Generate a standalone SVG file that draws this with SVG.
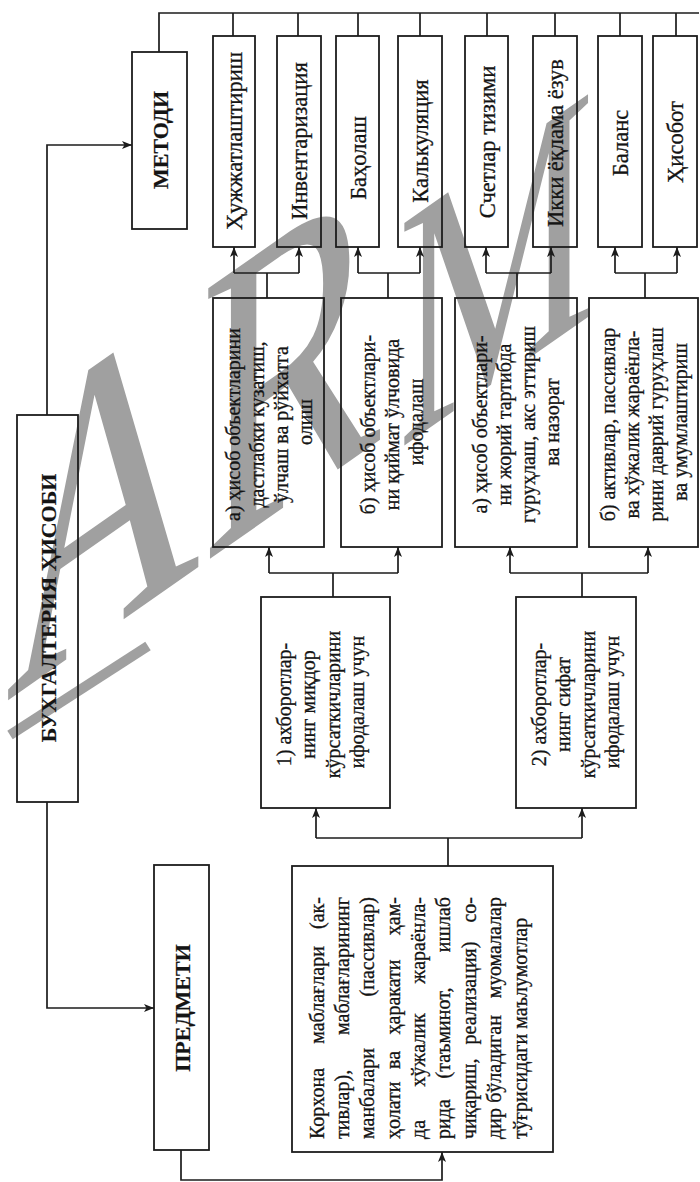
<svg xmlns="http://www.w3.org/2000/svg" width="700" height="1182" viewBox="0 0 700 1182">
  <defs>
    <style>
      .box { fill: none; stroke: #1c1c1c; stroke-width: 1.8; }
      .ln { fill: none; stroke: #1c1c1c; stroke-width: 1.7; }
      .arr { marker-end: url(#head); }
      .t { font-family: "Liberation Serif", "Times New Roman", serif; font-size: 20px; fill: #141414; stroke: #141414; stroke-width: 0.3; text-anchor: middle; }
      .m { font-size: 22.5px; }
      .b { font-weight: bold; font-size: 22px; stroke-width: 0.2; }
      .s { text-anchor: start; }
      .c { text-anchor: middle; }
      .e { text-anchor: end; }
      .wm { font-family: "Liberation Serif", "Times New Roman", serif; font-size: 415px; fill: #a0a0a0; }
      .wm-small { font-size: 340px; }
    </style>
    <marker id="head" markerUnits="userSpaceOnUse" markerWidth="10" markerHeight="8" refX="10" refY="4" orient="auto">
      <path d="M0,0 L10,4 L0,8 L2.5,4 z" fill="#1c1c1c"/>
    </marker>
  </defs>
  <rect width="700" height="1182" fill="#ffffff"/>

  <!-- grey stamp lettering behind the chart -->
  <g id="watermark">
    <text class="wm" transform="translate(5.5,702) skewY(-35) scale(0.65,1)">A</text>
    <text class="wm" transform="translate(200.5,565.5) skewY(-35) scale(0.65,1)">R</text>
    <text class="wm wm-small" transform="translate(398,450) skewY(-35) scale(0.65,1)">M</text>
    <line x1="10" y1="735" x2="148" y2="646" stroke="#a0a0a0" stroke-width="10"/>
  </g>

  <!-- connectors -->
  <g id="connectors">
    <!-- method bus along the top -->
    <path class="ln" d="M159,52 V13 H699 M233,13 V36 M298,13 V36 M358,13 V36 M420,13 V36 M487,13 V36 M555,13 V36 M620,13 V36 M676,13 V36"/>
    <!-- root to methods / subject -->
    <path class="ln arr" d="M47,415 V145 H132"/>
    <path class="ln arr" d="M47,802 V1008 H154"/>
    <!-- subject to its description -->
    <path class="ln arr" d="M181,1150 V1180 H442 V1152"/>
    <!-- description to the two information groups -->
    <path class="ln" d="M448,866 V838 M316,838 H582"/>
    <path class="ln arr" d="M316,838 V808"/>
    <path class="ln arr" d="M582,838 V808"/>
    <!-- group 1 to its tasks -->
    <path class="ln" d="M333,597 V573 M269,573 H398"/>
    <path class="ln arr" d="M269,573 V547"/>
    <path class="ln arr" d="M398,573 V547"/>
    <!-- group 2 to its tasks -->
    <path class="ln" d="M582,597 V573 M510,573 H648"/>
    <path class="ln arr" d="M510,573 V547"/>
    <path class="ln arr" d="M648,573 V547"/>
    <!-- tasks to methods -->
    <path class="ln" d="M267,298 V273 M234,273 H299"/>
    <path class="ln arr" d="M234,273 V247"/>
    <path class="ln arr" d="M299,273 V247"/>
    <path class="ln" d="M388,298 V273 M358,273 H420"/>
    <path class="ln arr" d="M358,273 V247"/>
    <path class="ln arr" d="M420,273 V247"/>
    <path class="ln" d="M517,298 V273 M486,273 H551"/>
    <path class="ln arr" d="M486,273 V247"/>
    <path class="ln arr" d="M551,273 V247"/>
    <path class="ln" d="M645,298 V273 M615,273 H677"/>
    <path class="ln arr" d="M615,273 V247"/>
    <path class="ln arr" d="M677,273 V247"/>
  </g>

  <!-- root -->
  <g id="root">
    <rect class="box" x="17" y="415" width="61" height="387"/>
    <text class="t b" transform="translate(47.5,608) rotate(-90)" y="8">БУХГАЛТЕРИЯ ҲИСОБИ</text>
  </g>

  <g id="metodi">
    <rect class="box" x="132" y="52" width="55" height="177"/>
    <text class="t b" transform="translate(159.5,140) rotate(-90)" y="8">МЕТОДИ</text>
  </g>

  <g id="predmeti">
    <rect class="box" x="154" y="865" width="55" height="285"/>
    <text class="t b" transform="translate(181.5,1008) rotate(-90)" y="8">ПРЕДМЕТИ</text>
  </g>

  <!-- methods -->
  <g id="m1">
    <rect class="box" x="213" y="36" width="42" height="211"/>
    <text class="t m" transform="translate(234,141) rotate(-90)" y="8">Ҳужжатлаштириш</text>
  </g>
  <g id="m2">
    <rect class="box" x="277" y="36" width="44" height="211"/>
    <text class="t m" transform="translate(299,141) rotate(-90)" y="8">Инвентаризация</text>
  </g>
  <g id="m3">
    <rect class="box" x="336" y="36" width="43" height="211"/>
    <text class="t m" transform="translate(357.5,158) rotate(-90)" y="8">Баҳолаш</text>
  </g>
  <g id="m4">
    <rect class="box" x="398" y="36" width="44" height="211"/>
    <text class="t m" transform="translate(420,141) rotate(-90)" y="8">Калькуляция</text>
  </g>
  <g id="m5">
    <rect class="box" x="465" y="36" width="43" height="211"/>
    <text class="t m" transform="translate(486.5,142) rotate(-90)" y="8">Счетлар тизими</text>
  </g>
  <g id="m6">
    <rect class="box" x="533" y="36" width="44" height="211"/>
    <text class="t m" transform="translate(555,143) rotate(-90)" y="8">Икки ёқлама ёзув</text>
  </g>
  <g id="m7">
    <rect class="box" x="598" y="36" width="44" height="211"/>
    <text class="t m" transform="translate(620,143) rotate(-90)" y="8">Баланс</text>
  </g>
  <g id="m8">
    <rect class="box" x="653" y="36" width="44" height="211"/>
    <text class="t m" transform="translate(675,142) rotate(-90)" y="8">Ҳисобот</text>
  </g>

  <!-- tasks -->
  <g id="task-a1">
    <rect class="box" x="213" y="298" width="111" height="249"/>
    <text class="t" transform="translate(269,422) rotate(-90)">
      <tspan x="0" y="-29">а) ҳисоб объектларини</tspan>
      <tspan x="0" y="-5">дастлабки кузатиш,</tspan>
      <tspan x="0" y="19">ўлчаш ва рўйхатга</tspan>
      <tspan x="0" y="43">олиш</tspan>
    </text>
  </g>
  <g id="task-b1">
    <rect class="box" x="341" y="298" width="101" height="249"/>
    <text class="t" transform="translate(391.5,422) rotate(-90)">
      <tspan x="0" y="-17">б) ҳисоб объектлари-</tspan>
      <tspan x="0" y="7">ни қиймат ўлчовида</tspan>
      <tspan x="0" y="31">ифодалаш</tspan>
    </text>
  </g>
  <g id="task-a2">
    <rect class="box" x="455" y="298" width="122" height="249"/>
    <text class="t" transform="translate(516,422) rotate(-90)">
      <tspan x="0" y="-29">а) ҳисоб объектлари-</tspan>
      <tspan x="0" y="-5">ни жорий тартибда</tspan>
      <tspan x="0" y="19">гуруҳлаш, акс эттириш</tspan>
      <tspan x="0" y="43">ва назорат</tspan>
    </text>
  </g>
  <g id="task-b2">
    <rect class="box" x="589" y="298" width="109" height="249"/>
    <text class="t" transform="translate(643.5,422) rotate(-90)">
      <tspan x="0" y="-29">б) активлар, пассивлар</tspan>
      <tspan x="0" y="-5">ва хўжалик жараёнла-</tspan>
      <tspan x="0" y="19">рини даврий гуруҳлаш</tspan>
      <tspan x="0" y="43">ва умумлаштириш</tspan>
    </text>
  </g>

  <!-- information groups -->
  <g id="info-1">
    <rect class="box" x="261" y="597" width="129" height="211"/>
    <text class="t" transform="translate(321,702) rotate(-90)">
      <tspan x="0" y="-30">1) ахборотлар-</tspan>
      <tspan x="0" y="-6">нинг миқдор</tspan>
      <tspan x="0" y="19">кўрсаткичларини</tspan>
      <tspan x="0" y="43">ифодалаш учун</tspan>
    </text>
  </g>
  <g id="info-2">
    <rect class="box" x="516" y="597" width="120" height="211"/>
    <text class="t" transform="translate(576,702) rotate(-90)">
      <tspan x="0" y="-30">2) ахборотлар-</tspan>
      <tspan x="0" y="-6">нинг сифат</tspan>
      <tspan x="0" y="19">кўрсаткичларини</tspan>
      <tspan x="0" y="43">ифодалаш учун</tspan>
    </text>
  </g>

  <!-- subject description, justified word by word -->
  <g id="description">
    <rect class="box" x="292" y="866" width="261" height="286"/>
    <text class="t" transform="translate(417,1009) rotate(-90)">
      <tspan class="s" x="-130" y="-93">Корхона</tspan><tspan class="c" x="14" y="-93">маблағлари</tspan><tspan class="e" x="117" y="-93">(ак-</tspan>
      <tspan class="s" x="-130" y="-68">тивлар),</tspan><tspan class="e" x="117" y="-68">маблағларининг</tspan>
      <tspan class="s" x="-130" y="-43">манбалари</tspan><tspan class="e" x="117" y="-43">(пассивлар)</tspan>
      <tspan class="s" x="-130" y="-17">ҳолати</tspan><tspan class="c" x="-51" y="-17">ва</tspan><tspan class="c" x="12" y="-17">ҳаракати</tspan><tspan class="e" x="117" y="-17">ҳам-</tspan>
      <tspan class="s" x="-130" y="8">да</tspan><tspan class="c" x="-41" y="8">хўжалик</tspan><tspan class="e" x="117" y="8">жараёнла-</tspan>
      <tspan class="s" x="-130" y="33">рида</tspan><tspan class="c" x="-24" y="33">(таъминот,</tspan><tspan class="e" x="117" y="33">ишлаб</tspan>
      <tspan class="s" x="-130" y="59">чиқариш,</tspan><tspan class="c" x="16" y="59">реализация)</tspan><tspan class="e" x="117" y="59">со-</tspan>
      <tspan class="s" x="-130" y="84">дир</tspan><tspan class="c" x="-50" y="84">бўладиган</tspan><tspan class="e" x="117" y="84">муомалалар</tspan>
      <tspan class="s" x="-130" y="110">тўғрисидаги маълумотлар</tspan>
    </text>
  </g>
</svg>
